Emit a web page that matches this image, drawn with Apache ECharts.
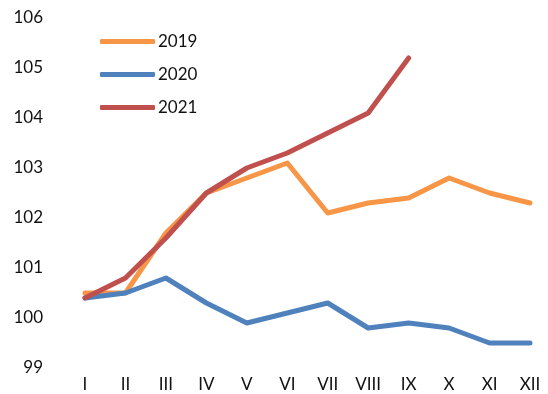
<!DOCTYPE html>
<html>
<head>
<meta charset="utf-8">
<script src="https://cdn.jsdelivr.net/npm/echarts@6/dist/echarts.min.js"></script>
<style>
  html, body { margin: 0; padding: 0; background: #fff; }
  #chart { width: 548px; height: 394px; }
</style>
</head>
<body>
<div id="chart"></div>
<script>
// Monthly index, previous year = 100
const months = ['I', 'II', 'III', 'IV', 'V', 'VI', 'VII', 'VIII', 'IX', 'X', 'XI', 'XII'];
const values2019 = [100.5, 100.5, 101.7, 102.5, 102.8, 103.1, 102.1, 102.3, 102.4, 102.8, 102.5, 102.3];
const values2020 = [100.4, 100.5, 100.8, 100.3, 99.9, 100.1, 100.3, 99.8, 99.9, 99.8, 99.5, 99.5];
const values2021 = [100.4, 100.8, 101.6, 102.5, 103.0, 103.3, 103.7, 104.1, 105.2];
const yTicks = [99, 100, 101, 102, 103, 104, 105, 106];

const seriesDefs = [
  { name: '2019', data: values2019, color: '#F79646' },
  { name: '2020', data: values2020, color: '#4F81BD' },
  { name: '2021', data: values2021, color: '#C0504D' }
];

const font = 'Lato, "Open Sans", sans-serif';
const chart = echarts.init(document.getElementById('chart'), null, { renderer: 'canvas' });

chart.setOption({
  animation: false,
  backgroundColor: '#ffffff',
  grid: { left: 85, right: 18, top: 18, bottom: 26 },
  legend: {
    orient: 'vertical',
    left: 100,
    top: 33,
    padding: 0,
    itemWidth: 55,
    itemHeight: 5,
    itemGap: 16,
    icon: 'roundRect',
    textStyle: { fontFamily: font, fontSize: 17, color: '#111', padding: [0, 0, 0, -2] },
    data: seriesDefs.map(s => s.name)
  },
  xAxis: {
    type: 'category',
    data: months,
    boundaryGap: false,
    axisLine: { show: false },
    axisTick: { show: false },
    axisLabel: { fontFamily: font, fontSize: 17, color: '#111', margin: 8 }
  },
  yAxis: {
    type: 'value',
    min: yTicks[0],
    max: yTicks[yTicks.length - 1],
    interval: 1,
    splitLine: { show: false },
    axisLine: { show: false },
    axisTick: { show: false },
    axisLabel: { fontFamily: font, fontSize: 17, color: '#111', margin: 42 }
  },
  series: seriesDefs.map(s => ({
    name: s.name,
    type: 'line',
    data: s.data,
    color: s.color,
    symbol: 'none',
    lineStyle: { width: 5, color: s.color, cap: 'round', join: 'round' },
    itemStyle: { color: s.color }
  }))
});
</script>
</body>
</html>
